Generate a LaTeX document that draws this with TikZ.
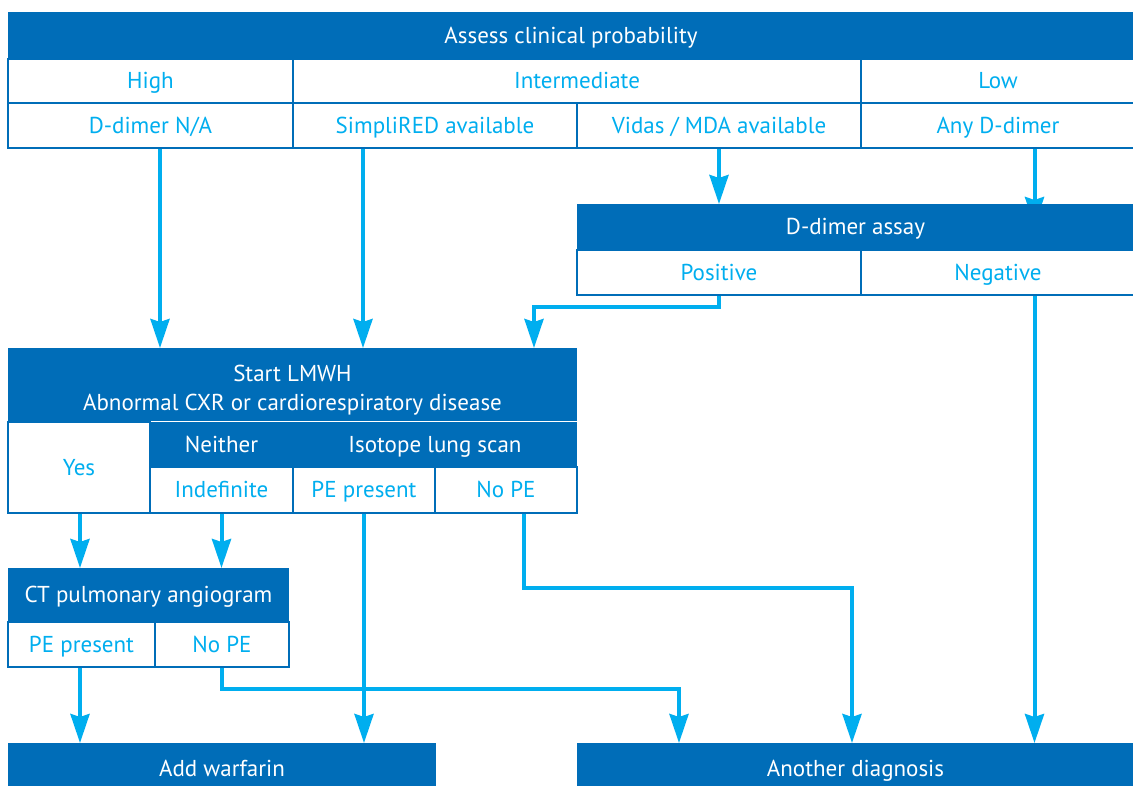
\documentclass[tikz,border=0pt]{standalone}
\usepackage{fontspec}
\setmainfont{PT Sans}
\usetikzlibrary{arrows.meta,backgrounds}
\definecolor{dkblue}{HTML}{006DB8}
\definecolor{ltblue}{HTML}{00AEEF}
\begin{document}
\begin{tikzpicture}[x=1pt,y=-1pt,
  cell/.style={anchor=north west,inner sep=0pt,outer sep=0pt,font=\fontsize{23}{29}\selectfont,align=center,text height=17pt,text depth=2pt},
  dk/.style={cell,fill=dkblue,text=white},
  wc/.style={cell,fill=white,draw=dkblue,line width=1.8pt,text=ltblue},
  arr/.style={draw=ltblue,line width=4pt,-{Stealth[length=29pt,width=19pt,inset=3pt]}}]
\useasboundingbox (0,0) rectangle (1133,785);
% top table
\node[dk,minimum width=1126,minimum height=47] (top) at (8,12) {Assess clinical probability};
\node[wc,minimum width=285,minimum height=44] (high) at (8,59) {High};
\node[wc,minimum width=568,minimum height=44] (inter) at (293,59) {Intermediate};
\node[wc,minimum width=274,minimum height=44] (low) at (861,59) {Low};
\node[wc,minimum width=285,minimum height=45] (ddna) at (8,103) {D-dimer N/A};
\node[wc,minimum width=284,minimum height=45] (simp) at (293,103) {SimpliRED available};
\node[wc,minimum width=284,minimum height=45] (vidas) at (577,103) {Vidas / MDA available};
\node[wc,minimum width=274,minimum height=45] (anyd) at (861,103) {Any D-dimer};
% D-dimer assay
\node[dk,minimum width=557,minimum height=46] (dda) at (577,204) {D-dimer assay};
\node[wc,minimum width=284,minimum height=45] (pos) at (577,250) {Positive};
\node[wc,minimum width=274,minimum height=45] (neg) at (861,250) {Negative};
% Start LMWH
\node[dk,minimum width=569,minimum height=73,text height=55pt,text depth=4pt] (lmwh) at (8,348) {Start LMWH\\Abnormal CXR or cardiorespiratory disease};
\node[wc,minimum width=142,minimum height=91] (yes) at (8,422) {Yes};
\node[dk,minimum width=143,minimum height=45] (neither) at (150,422) {Neither};
\node[dk,minimum width=284,minimum height=45] (iso) at (293,422) {Isotope lung scan};
\node[wc,minimum width=143,minimum height=46] (indef) at (150,467) {Indefinite};
\node[wc,minimum width=142,minimum height=46] (pep) at (293,467) {PE present};
\node[wc,minimum width=142,minimum height=46] (nope) at (435,467) {No PE};
% CT
\node[dk,minimum width=281,minimum height=54] (ct) at (8,568) {CT pulmonary angiogram};
\node[wc,minimum width=147,minimum height=45] (ctpe) at (8,622) {PE present};
\node[wc,minimum width=134,minimum height=45] (ctno) at (155,622) {No PE};
% outcomes
\node[dk,minimum width=428,minimum height=52] (warf) at (8,743) {Add warfarin};
\node[dk,minimum width=557,minimum height=52] (another) at (577,743) {Another diagnosis};
% source coordinates
\coordinate (s1) at ([xshift=9.5pt]ddna.south);
\coordinate (s2) at ([xshift=-72pt]simp.south);
\coordinate (s4) at ([xshift=36.5pt]anyd.south);
\coordinate (s6) at ([xshift=36.5pt]neg.south);
\coordinate (t5) at ([xshift=241.5pt]lmwh.north);
\coordinate (s7) at ([xshift=1pt]yes.south);
\coordinate (s9) at ([xshift=18pt]nope.south);
\coordinate (t9) at ([xshift=-3.5pt]another.north);
\coordinate (s10) at ([xshift=-1.5pt]ctpe.south);
\coordinate (t11) at ([xshift=-176.5pt]another.north);
\path (s4 |- dda.north) coordinate (t4a);
\coordinate (t4) at ([yshift=-22pt]t4a);
\begin{pgfonlayer}{background}
\fill[white] (0,0) rectangle (1133,785);
\draw[arr] (s1) -- (s1 |- lmwh.north);
\draw[arr] (s2) -- (s2 |- lmwh.north);
\draw[arr] (vidas.south) -- (vidas.south |- dda.north);
\draw[arr] (s4) -- (t4);
\draw[arr] (pos.south) -- ++(0,12) -| (t5);
\draw[arr] (s6) -- (s6 |- another.north);
\draw[arr] (s7) -- (s7 |- ct.north);
\draw[arr] (indef.south) -- (indef.south |- ct.north);
\draw[arr] (pep.south) -- (pep.south |- warf.north);
\draw[arr] (s9) -- ++(0,75) -| (t9);
\draw[arr] (s10) -- (s10 |- warf.north);
\draw[arr] (ctno.south) -- ++(0,22) -| (t11);
\end{pgfonlayer}
\end{tikzpicture}
\end{document}
